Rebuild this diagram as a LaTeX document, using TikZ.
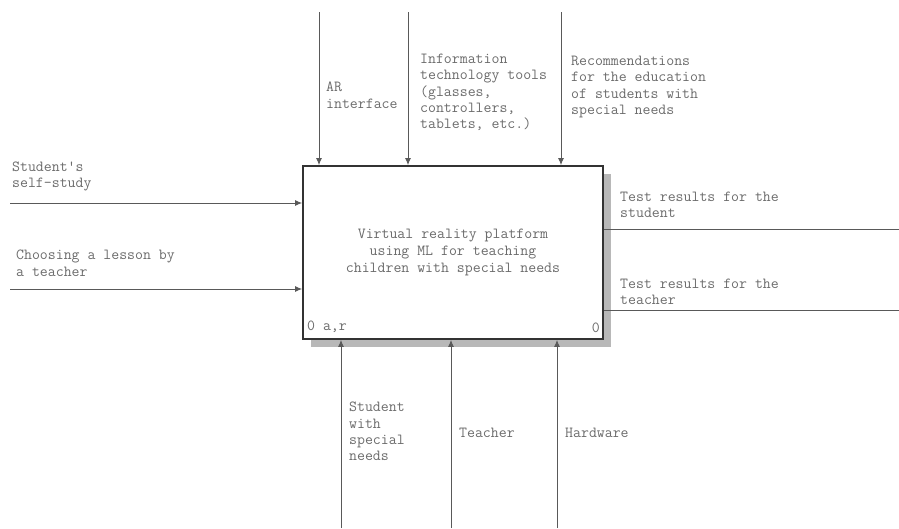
\documentclass[tikz,border=0pt]{standalone}
\usepackage{fontspec}
\usetikzlibrary{arrows.meta, positioning}
\definecolor{linegray}{gray}{0.35}
\definecolor{textgray}{gray}{0.42}
\definecolor{shadowgray}{gray}{0.72}
\tikzset{
  >={Latex[length=7pt,width=6pt]}, % small filled heads as in the IDEF0 tool
  flow/.style={->, draw=linegray, line width=0.9pt},
  lbl/.style={anchor=north west, inner sep=0pt, align=left, text=textgray,
    font=\ttfamily\fontsize{15.4}{16.2}\selectfont},
  activity/.style={draw=black!80, line width=1.8pt, fill=white,
    minimum width=300pt, minimum height=173pt, inner sep=0pt, align=center,
    text=textgray, font=\ttfamily\fontsize{15.4}{16.6}\selectfont},
}
\begin{document}
\begin{tikzpicture}[x=1pt,y=-1pt]
  \useasboundingbox (0,0) rectangle (899,528);

  % activity box with its shadow
  \fill[shadowgray] (311,174) rectangle (611,347);
  \node[activity] (act) at (453,252.5)
    {Virtual reality platform\\using ML for teaching\\children with special needs};
  \node[lbl, anchor=south west] (num) at (307,333) {0 a,r};
  \node[lbl, anchor=south east] (nr) at (600,333) {0};

  % controls
  \coordinate (c1) at (319,12);
  \coordinate (c2) at (408,12);
  \coordinate (c3) at (561,12);
  \draw[flow] (c1) -- (c1 |- act.north);
  \draw[flow] (c2) -- (c2 |- act.north);
  \draw[flow] (c3) -- (c3 |- act.north);
  \node[lbl] (arif) at (326,82) {AR\\interface};
  \node[lbl] (ittools) at (420,54) {Information\\technology tools\\(glasses,\\controllers,\\tablets, etc.)};
  \node[lbl] (recom) at (571,56) {Recommendations\\for the education\\of students with\\special needs};

  % inputs
  \coordinate (i1) at (10,203);
  \coordinate (i2) at (10,289);
  \draw[flow] (i1) -- (i1 -| act.west);
  \draw[flow] (i2) -- (i2 -| act.west);
  \node[lbl] (self) at (12,162) {Student's\\self-study};
  \node[lbl] (choose) at (16,250) {Choosing a lesson by\\a teacher};

  % outputs
  \coordinate (o1) at (899,229);
  \coordinate (o2) at (899,310);
  \draw[draw=linegray, line width=0.9pt] (o1 -| act.east) -- (o1);
  \draw[draw=linegray, line width=0.9pt] (o2 -| act.east) -- (o2);
  \node[lbl] (resst) at (620,192) {Test results for the\\student};
  \node[lbl] (restc) at (620,279) {Test results for the\\teacher};

  % mechanisms
  \coordinate (m1) at (341,528);
  \coordinate (m2) at (451,528);
  \coordinate (m3) at (557,528);
  \draw[flow] (m1) -- (m1 |- act.south);
  \draw[flow] (m2) -- (m2 |- act.south);
  \draw[flow] (m3) -- (m3 |- act.south);
  \node[lbl] (stud) at (349,402) {Student\\with\\special\\needs};
  \node[lbl] (teach) at (459,428) {Teacher};
  \node[lbl] (hw) at (565,428) {Hardware};
\end{tikzpicture}
\end{document}
